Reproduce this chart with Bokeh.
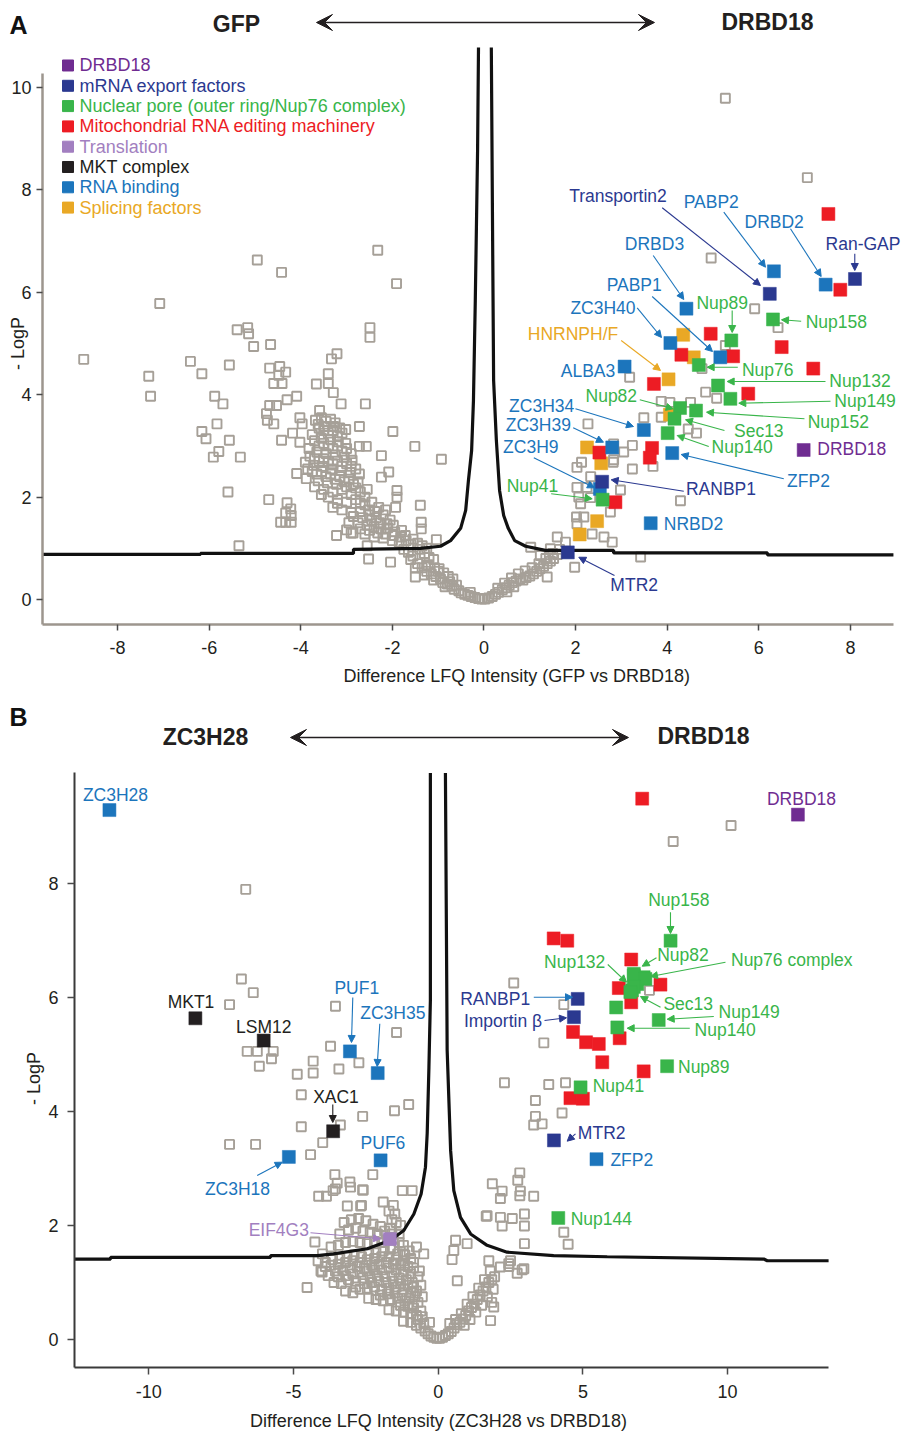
from bokeh.plotting import figure
from bokeh.models import Label, Arrow, NormalHead, VeeHead, Range1d, FixedTicker
from bokeh.layouts import column
from bokeh.embed import file_html
from bokeh.resources import INLINE

FONT = "Liberation Sans"
C_DRBD18 = "#6f2c91"
C_EXPORT = "#2b3990"
C_PORE = "#39b54a"
C_EDIT = "#ed1c24"
C_TRANS = "#a27fc0"
C_MKT = "#231f20"
C_RNA = "#1c75bc"
C_SPLICE = "#e9a825"
C_GREY = "#a6a098"

# ---------------- Panel A data (GFP vs DRBD18) ----------------
A_drbd18 = [(6.98, 2.92)]
A_export = [(6.24, 5.97), (8.10, 6.26), (2.58, 2.30), (1.83, 0.92)]
A_pore = [(6.31, 5.47), (5.40, 5.06), (4.69, 4.58), (5.11, 4.18), (5.38, 3.92), (4.28, 3.74),
          (4.63, 3.69), (4.16, 3.53), (4.01, 3.25), (2.59, 1.95)]
A_editing = [(7.52, 7.53), (7.78, 6.05), (4.95, 5.19), (6.50, 4.93), (4.31, 4.78), (5.44, 4.75),
             (7.19, 4.51), (3.71, 4.21), (5.77, 4.02), (2.52, 2.87), (3.67, 2.96), (3.62, 2.77), (2.87, 1.90)]
A_splicing = [(4.35, 5.17), (4.58, 4.73), (4.03, 4.30), (4.06, 3.61), (2.25, 2.97), (2.56, 2.66),
              (2.47, 1.53), (2.09, 1.27)]
A_rnabind = [(6.33, 6.41), (7.46, 6.15), (4.42, 5.68), (4.07, 5.01), (5.16, 4.73), (3.07, 4.55),
             (3.49, 3.31), (2.80, 2.97), (4.11, 2.86), (2.53, 2.16), (3.64, 1.49)]

A_other = [
    (-8.74, 4.69), (-7.08, 5.78), (-7.32, 4.36), (-7.28, 3.97), (-4.95, 6.63), (-4.42, 6.39), (-2.32, 6.82),
    (-1.91, 6.17), (-5.39, 5.27), (-5.16, 5.31), (-5.14, 5.19), (-5.03, 4.94), (-4.66, 4.98), (-2.49, 5.31),
    (-2.49, 5.12), (-6.41, 4.65), (-6.16, 4.41), (-5.56, 4.58), (-4.68, 4.52), (-4.46, 4.55), (-4.33, 4.44),
    (-4.48, 4.38), (-4.59, 4.22), (-4.41, 4.22), (-3.21, 4.80), (-3.33, 4.70), (-3.40, 4.41), (-3.40, 4.22),
    (-3.66, 4.21), (-3.29, 4.04), (-3.12, 3.82), (-2.59, 3.82), (-5.88, 3.97), (-5.70, 3.82), (-4.09, 3.97),
    (-4.30, 3.90), (-4.68, 3.79), (-4.53, 3.79), (-4.75, 3.63), (-4.73, 3.50), (-4.59, 3.43), (-4.02, 3.55),
    (-3.97, 3.43), (-5.83, 3.43), (-6.16, 3.28), (-6.07, 3.14), (-5.56, 3.11), (-4.42, 3.11), (-4.18, 3.25),
    (-4.02, 3.07), (-5.79, 2.89), (-5.91, 2.78), (-5.32, 2.78), (-2.72, 3.38), (-1.99, 3.28), (-1.51, 2.99),
    (-0.93, 2.74), (-2.24, 2.81), (-2.72, 2.99), (-2.57, 2.99), (-5.59, 2.10), (-4.70, 1.95), (-4.09, 2.46),
    (-3.88, 2.36), (-4.30, 1.89), (-4.22, 1.77), (-4.33, 1.69), (-4.21, 1.64), (-4.44, 1.51), (-4.33, 1.51),
    (-4.21, 1.51), (-5.35, 1.05), (-3.22, 1.25), (-3.00, 1.36), (-2.86, 1.30), (-2.55, 1.05), (-2.04, 0.73),
    (-2.52, 0.79), (-1.39, 1.84), (-1.37, 1.51), (-1.37, 1.38), (-1.50, 0.44), (-2.08, 2.49), (-2.24, 2.39),
    (-1.90, 2.13), (-1.90, 2.00), (-1.93, 1.80), (-3.59, 3.69), (-3.68, 3.50), (-3.02, 3.32), (-1.04, 1.17),
    # dense upper cluster
    (-3.55, 3.55), (-3.45, 3.48), (-3.35, 3.52), (-3.25, 3.45), (-3.60, 3.35), (-3.50, 3.30), (-3.40, 3.25),
    (-3.30, 3.30), (-3.20, 3.20), (-3.10, 3.25), (-3.70, 3.10), (-3.60, 3.00), (-3.50, 3.05), (-3.40, 3.00),
    (-3.30, 2.95), (-3.20, 3.00), (-3.10, 2.90), (-3.00, 2.95), (-2.90, 2.85), (-3.80, 2.80), (-3.70, 2.75),
    (-3.60, 2.70), (-3.50, 2.75), (-3.40, 2.70), (-3.30, 2.65), (-3.20, 2.70), (-3.10, 2.60), (-3.00, 2.65),
    (-2.90, 2.60), (-2.80, 2.55), (-3.85, 2.55), (-3.75, 2.50), (-3.65, 2.45), (-3.55, 2.50), (-3.45, 2.40),
    (-3.35, 2.45), (-3.25, 2.35), (-3.15, 2.40), (-3.05, 2.30), (-2.95, 2.35), (-2.85, 2.25), (-2.75, 2.30),
    (-3.70, 2.20), (-3.50, 2.15), (-3.30, 2.10), (-3.10, 2.15), (-2.90, 2.05), (-2.70, 2.10), (-2.60, 2.00),
    (-3.62, 3.42), (-3.48, 3.38), (-3.28, 3.38), (-3.15, 3.35), (-3.75, 3.22), (-3.55, 3.15), (-3.35, 3.12),
    (-3.18, 3.08), (-3.02, 3.05), (-3.82, 2.95), (-3.65, 2.88), (-3.45, 2.85), (-3.25, 2.82), (-3.05, 2.78),
    (-2.88, 2.72), (-3.90, 2.68), (-3.72, 2.62), (-3.52, 2.60), (-3.32, 2.55), (-3.12, 2.52), (-2.92, 2.48),
    (-2.72, 2.45), (-3.62, 2.32), (-3.42, 2.28), (-3.22, 2.25), (-3.00, 2.20), (-2.80, 2.18), (-2.55, 2.15),
    (-3.55, 2.05), (-3.20, 1.88),
    # dense middle band
    (-3.20, 1.95), (-3.00, 1.90), (-2.80, 1.95), (-2.60, 1.85), (-2.45, 1.90), (-2.30, 1.80), (-3.10, 1.75),
    (-2.90, 1.70), (-2.70, 1.72), (-2.50, 1.65), (-2.35, 1.60), (-2.20, 1.65), (-2.05, 1.55), (-2.95, 1.50),
    (-2.75, 1.50), (-2.55, 1.45), (-2.40, 1.42), (-2.25, 1.38), (-2.10, 1.40), (-1.95, 1.32), (-1.80, 1.35),
    (-2.60, 1.28), (-2.40, 1.22), (-2.20, 1.20), (-2.00, 1.15), (-1.85, 1.12), (-1.70, 1.15), (-1.60, 1.08),
    (-2.90, 1.30), (-3.30, 1.80), (-3.40, 2.00),
    (-2.70, 1.88), (-2.52, 1.75), (-2.38, 1.72), (-2.15, 1.75), (-2.85, 1.62), (-2.65, 1.60), (-2.45, 1.55),
    (-2.28, 1.50), (-2.12, 1.48), (-1.98, 1.45), (-2.70, 1.38), (-2.50, 1.35), (-2.32, 1.30), (-2.15, 1.28),
    (-1.98, 1.25), (-1.82, 1.22), (-1.72, 1.25), (-1.55, 1.18), (-1.45, 1.10), (-1.35, 1.05), (-1.25, 1.00),
    (-1.40, 0.98), (-1.30, 0.90), (-1.20, 0.82), (-1.10, 0.78), (-1.22, 0.68), (-1.08, 0.62), (-0.98, 0.60),
    (-0.88, 0.52), (-0.78, 0.45), (-0.68, 0.40),
    # V shaped bottom
    (-1.75, 0.98), (-1.65, 0.92), (-1.55, 0.85), (-1.60, 0.78), (-1.45, 0.70), (-1.50, 0.62), (-1.35, 0.62),
    (-1.25, 0.55), (-1.30, 0.48), (-1.15, 0.50), (-1.05, 0.45), (-1.10, 0.38), (-0.95, 0.40), (-0.90, 0.33),
    (-0.80, 0.30), (-0.85, 0.25), (-0.70, 0.26), (-0.65, 0.20), (-0.55, 0.17), (-0.50, 0.13), (-0.42, 0.10),
    (-0.35, 0.08), (-0.28, 0.06), (-0.20, 0.04), (-0.12, 0.02), (-0.05, 0.01), (0.02, 0.01), (0.10, 0.03),
    (0.18, 0.06), (0.25, 0.10), (0.32, 0.14), (0.40, 0.19), (0.48, 0.23), (0.55, 0.28), (0.62, 0.33),
    (0.70, 0.36), (0.78, 0.40), (0.85, 0.38), (0.92, 0.43), (1.00, 0.46), (1.08, 0.50), (1.15, 0.55),
    (1.22, 0.60), (1.30, 0.65), (1.38, 0.70), (1.45, 0.75), (1.52, 0.80), (1.60, 0.88), (-0.60, 0.28),
    (-0.75, 0.35), (-1.00, 0.55), (0.50, 0.15), (0.65, 0.25), (-0.30, 0.14),
    (0.30, 0.22), (0.45, 0.32), (0.60, 0.42), (0.75, 0.50), (0.90, 0.56), (1.05, 0.62), (1.20, 0.70),
    (1.35, 0.80), (1.50, 0.90), (1.65, 0.98),
    # right side
    (5.27, 9.79), (7.06, 8.24), (4.96, 6.67), (5.91, 5.68), (6.42, 5.31), (5.27, 4.96), (4.76, 4.51),
    (3.18, 4.34), (4.84, 4.05), (5.08, 3.93), (3.87, 3.87), (4.06, 3.85), (4.51, 3.85), (3.49, 3.55),
    (3.87, 3.56), (2.27, 3.43), (4.46, 3.33), (4.64, 3.25), (3.24, 3.01), (3.05, 2.88), (2.83, 2.73),
    (3.24, 2.55), (3.69, 2.60), (2.03, 2.58), (2.13, 2.68), (2.33, 2.40), (2.03, 2.19), (2.25, 2.19),
    (2.98, 2.14), (2.07, 2.00), (2.33, 1.99), (2.11, 1.87), (2.76, 1.71), (2.02, 1.61), (2.18, 1.61),
    (2.03, 1.48), (2.36, 1.28), (2.62, 1.22), (2.80, 1.12), (1.60, 1.22), (1.78, 1.12), (3.42, 0.83),
    (1.98, 0.63), (4.29, 1.93), (2.83, 3.04), (2.82, 2.68), (1.45, 0.99), (1.23, 0.86), (1.02, 1.02),
    (1.38, 0.44),
]

A_thr_left_x = [-9.64, -6.19, -6.19, -2.85, -2.85, -1.39, -0.95, -0.73, -0.51, -0.40, -0.34, -0.27, -0.23, -0.19, -0.14, -0.12]
A_thr_left_y = [0.88, 0.88, 0.90, 0.90, 0.98, 1.00, 1.04, 1.15, 1.39, 1.74, 2.32, 2.91, 3.89, 5.84, 8.77, 10.78]
A_thr_right_x = [0.16, 0.19, 0.21, 0.27, 0.34, 0.43, 0.53, 0.67, 0.91, 1.34, 2.83, 2.83, 6.19, 6.19, 8.94]
A_thr_right_y = [10.78, 6.82, 4.28, 3.11, 2.13, 1.64, 1.39, 1.15, 1.04, 0.96, 0.96, 0.91, 0.91, 0.87, 0.87]

A_xticks = [-8, -6, -4, -2, 0, 2, 4, 6, 8]
A_yticks = [0, 2, 4, 6, 8, 10]

# ---------------- Panel B data (ZC3H28 vs DRBD18) ----------------
B_drbd18 = [(12.43, 9.20)]
B_export = [(4.82, 5.97), (4.69, 5.65), (4.00, 3.49)]
B_pore = [(8.03, 6.99), (6.76, 6.41), (7.10, 6.35), (6.88, 6.23), (6.70, 6.12), (6.76, 6.38), (7.16, 6.32),
          (6.76, 6.18), (6.64, 6.09), (6.15, 5.82), (7.62, 5.60), (6.19, 5.47), (7.91, 4.79), (4.92, 4.42),
          (4.15, 2.13)]
B_editing = [(7.05, 9.48), (3.99, 7.03), (4.46, 6.99), (6.67, 6.66), (6.24, 6.16), (7.68, 6.22), (6.67, 5.91),
             (6.27, 5.28), (4.66, 5.39), (5.11, 5.21), (5.55, 5.18), (5.67, 4.86), (7.10, 4.70), (4.57, 4.23),
             (5.00, 4.22)]
B_rnabind = [(-11.36, 9.28), (-3.05, 5.05), (-2.09, 4.67), (-5.16, 3.20), (-1.99, 3.14), (5.47, 3.16)]
B_mkt = [(-8.39, 5.63), (-6.03, 5.24), (-3.63, 3.65)]
B_translation = [(-1.67, 1.76)]

B_other = [
    (-6.65, 7.89), (-6.80, 6.32), (-6.39, 6.08), (-7.21, 5.87), (-3.55, 5.84), (-1.44, 5.38), (-6.60, 5.05),
    (-6.25, 5.05), (-5.70, 5.05), (-5.76, 4.92), (-6.18, 4.79), (-3.72, 5.14), (-2.74, 4.85), (-4.32, 4.88),
    (-4.87, 4.65), (-4.32, 4.67), (-3.43, 4.74), (-4.73, 4.29), (-1.51, 4.01), (-1.02, 4.12), (-2.61, 3.91),
    (-4.73, 3.73), (-3.38, 3.76), (-3.99, 3.45), (-7.21, 3.42), (-6.31, 3.42), (-4.41, 3.24), (-2.26, 2.89),
    (-3.57, 2.89), (-3.49, 2.74), (-3.05, 2.76), (-3.63, 2.61), (-3.03, 2.67), (-2.61, 2.62), (-4.13, 2.51),
    (-3.86, 2.51), (-1.24, 2.61), (-0.90, 2.61), (-3.14, 2.34), (-2.68, 2.34), (-1.90, 2.41), (-4.26, 1.71),
    (-4.53, 0.91), (-4.01, 1.18), (-3.55, 2.64), (-2.59, 2.62), (-2.65, 2.35),
    # dense cloud left of the origin
    (-3.25, 2.05), (-3.00, 2.10), (-2.75, 2.12), (-2.50, 2.08), (-2.25, 2.02), (-2.00, 1.98), (-3.10, 1.92),
    (-2.85, 1.95), (-2.60, 1.90), (-2.35, 1.88), (-2.10, 1.85), (-1.85, 1.90), (-1.65, 1.95), (-1.60, 2.10),
    (-1.70, 2.25), (-1.50, 2.20), (-1.45, 2.05), (-3.40, 1.85),
    (-3.70, 1.62), (-3.45, 1.65), (-3.20, 1.70), (-2.95, 1.72), (-2.70, 1.70), (-2.45, 1.68), (-2.20, 1.72),
    (-1.95, 1.70), (-1.75, 1.75), (-1.55, 1.78), (-1.35, 1.70), (-1.20, 1.65), (-4.00, 1.50),
    (-4.15, 1.38), (-3.90, 1.35), (-3.65, 1.40), (-3.40, 1.42), (-3.15, 1.45), (-2.90, 1.48), (-2.65, 1.45),
    (-2.40, 1.50), (-2.15, 1.52), (-1.90, 1.55), (-1.65, 1.58), (-1.40, 1.50), (-1.15, 1.48), (-0.95, 1.42),
    (-0.75, 1.62),
    (-4.05, 1.20), (-3.80, 1.12), (-3.55, 1.20), (-3.30, 1.22), (-3.05, 1.25), (-2.80, 1.28), (-2.55, 1.25),
    (-2.30, 1.30), (-2.05, 1.32), (-1.80, 1.35), (-1.55, 1.32), (-1.30, 1.30), (-1.05, 1.28), (-0.85, 1.25),
    (-3.60, 1.00), (-3.35, 0.98), (-3.10, 1.05), (-2.85, 1.02), (-2.60, 1.08), (-2.35, 1.10), (-2.10, 1.12),
    (-1.85, 1.10), (-1.60, 1.12), (-1.35, 1.08), (-1.10, 1.05), (-0.90, 1.00), (-0.70, 1.10),
    (-3.20, 0.85), (-2.95, 0.82), (-2.70, 0.88), (-2.45, 0.90), (-2.20, 0.92), (-1.95, 0.88), (-1.70, 0.90),
    (-1.45, 0.92), (-1.20, 0.88), (-0.95, 0.82), (-0.75, 0.85),
    (-2.40, 0.72), (-2.15, 0.70), (-1.90, 0.68), (-1.65, 0.70), (-1.40, 0.72), (-1.15, 0.68), (-0.90, 0.62),
    (-0.70, 0.65), (-1.70, 0.52), (-1.45, 0.50), (-1.20, 0.48), (-0.95, 0.45), (-0.75, 0.42), (-0.60, 0.50),
    (-1.20, 0.32), (-0.95, 0.30), (-0.75, 0.25), (-0.60, 0.20), (-0.50, 0.28), (-0.45, 0.15), (-0.35, 0.10),
    (-0.25, 0.06), (-0.15, 0.04), (-0.05, 0.02), (0.05, 0.02), (0.15, 0.04), (0.25, 0.07), (0.35, 0.10),
    (0.45, 0.14), (0.55, 0.20), (0.65, 0.26), (0.75, 0.30), (0.85, 0.36), (0.95, 0.42), (1.05, 0.50),
    (1.15, 0.56), (1.25, 0.62), (1.35, 0.70), (1.45, 0.78), (1.55, 0.85), (1.65, 0.92), (1.75, 1.00),
    (1.85, 1.05), (1.95, 1.10), (0.60, 0.35), (0.80, 0.45), (1.00, 0.62), (1.20, 0.75), (1.40, 0.90),
    (1.60, 1.05), (1.80, 1.20), (0.90, 0.25), (1.10, 0.35), (1.30, 0.48), (1.50, 0.60), (1.70, 0.75),
    (1.90, 0.88), (1.85, 0.65), (0.40, 0.28), (-0.30, 0.30),
    (-1.60, 1.85), (-1.55, 1.60), (-1.00, 1.55), (-0.85, 1.35), (-0.65, 1.20), (-0.60, 0.95), (-0.55, 0.75),
    (-3.90, 1.28), (-3.70, 1.30), (-3.45, 1.32), (-3.20, 1.35), (-2.95, 1.38), (-2.70, 1.35), (-2.45, 1.40),
    (-2.20, 1.42), (-1.95, 1.45), (-1.70, 1.45), (-1.45, 1.40), (-1.20, 1.38), (-3.45, 1.10), (-3.20, 1.12),
    (-2.95, 1.15), (-2.70, 1.18), (-2.45, 1.20), (-2.20, 1.22), (-1.95, 1.22), (-1.70, 1.25), (-1.45, 1.22),
    (-1.20, 1.18), (-0.95, 1.15), (-2.85, 0.92), (-2.55, 0.98), (-2.30, 1.00), (-2.05, 1.02), (-1.80, 1.00),
    (-1.55, 1.02), (-1.30, 0.98), (-1.05, 0.95), (-0.85, 0.92), (-2.00, 0.78), (-1.75, 0.80), (-1.50, 0.82),
    (-1.25, 0.78), (-1.00, 0.72), (-0.80, 0.75), (-1.30, 0.60), (-1.05, 0.58), (-0.85, 0.55), (-0.70, 0.35),
    (-0.55, 0.40), (-1.35, 1.85), (-1.30, 2.00), (-1.55, 2.35), (-1.20, 1.50),
    # right side
    (10.12, 9.01), (8.12, 8.73), (2.61, 6.25), (4.34, 5.87), (3.65, 5.20), (7.30, 6.12), (2.29, 4.50),
    (3.82, 4.47), (4.40, 4.50), (3.36, 4.19), (4.28, 3.97), (3.36, 3.91), (3.30, 3.76), (3.59, 3.78),
    (2.82, 2.92), (2.75, 2.79), (1.87, 2.73), (2.21, 2.60), (2.84, 2.60), (2.15, 2.47), (2.82, 2.52),
    (3.30, 2.51), (1.66, 2.16), (2.15, 2.14), (2.56, 2.12), (2.98, 2.20), (2.21, 1.99), (2.98, 1.99),
    (4.34, 1.88), (4.49, 1.67), (2.98, 1.68), (0.60, 1.74), (1.00, 1.68), (1.75, 1.38), (2.44, 1.33),
    (2.44, 1.28), (2.96, 1.24), (2.15, 1.27), (0.54, 1.56), (-0.50, 1.50), (2.73, 1.16), (2.50, 1.38),
    (2.90, 1.22), (0.48, 1.40), (0.66, 1.03), (1.69, 2.17), (1.81, 0.33), (1.92, 0.57),
]

B_thr_left_x = [-12.57, -11.32, -11.32, -5.79, -5.79, -4.17, -3.62, -2.45, -1.65, -1.19, -0.84, -0.59, -0.44, -0.38, -0.32, -0.27, -0.27]
B_thr_left_y = [1.41, 1.41, 1.44, 1.44, 1.47, 1.47, 1.50, 1.59, 1.74, 1.91, 2.20, 2.55, 3.02, 3.61, 4.77, 5.94, 9.93]
B_thr_right_x = [0.25, 0.31, 0.43, 0.54, 0.77, 1.12, 1.69, 2.38, 3.99, 5.84, 11.25, 11.37, 13.49]
B_thr_right_y = [9.93, 5.07, 3.31, 2.61, 2.14, 1.85, 1.65, 1.53, 1.47, 1.45, 1.41, 1.38, 1.38]

B_xticks = [-10, -5, 0, 5, 10]
B_yticks = [0, 2, 4, 6, 8]

LEGEND = [("DRBD18", C_DRBD18), ("mRNA export factors", C_EXPORT),
          ("Nuclear pore (outer ring/Nup76 complex)", C_PORE),
          ("Mitochondrial RNA editing machinery", C_EDIT), ("Translation", C_TRANS),
          ("MKT complex", C_MKT), ("RNA binding", C_RNA), ("Splicing factors", C_SPLICE)]

# annotation placement in reference pixels: (text, cx, cy, colour, arrow[, arrow colour])
A_LABELS = [
    ("Transportin2", 617.5, 196, C_EXPORT, (661.7, 207.3, 760, 285)),
    ("PABP2", 710.8, 201.7, C_RNA, (723.3, 211.7, 765, 266.7)),
    ("DRBD2", 773.7, 221.7, C_RNA, (790, 228.3, 820.7, 276)),
    ("Ran-GAP", 862.5, 244, C_EXPORT, (854.3, 253.3, 854.3, 270)),
    ("DRBD3", 654, 244, C_RNA, (652.7, 255, 683.3, 299)),
    ("PABP1", 633.7, 285, C_RNA, (651.7, 296, 712, 351)),
    ("Nup89", 721.7, 302.7, C_PORE, (731.7, 310, 731.7, 332)),
    ("ZC3H40", 602.5, 307.3, C_RNA, (636.7, 307.3, 661, 337)),
    ("Nup158", 835.8, 321.7, C_PORE, (800.7, 320.7, 781, 319.3)),
    ("HNRNPH/F", 572.5, 334, C_SPLICE, (620.7, 340, 660, 370)),
    ("Nup76", 767.2, 369, C_PORE, (737.3, 366.7, 706.7, 366.7)),
    ("ALBA3", 587.5, 370, C_RNA, None),
    ("Nup132", 859.5, 380, C_PORE, (825, 381, 726.7, 381)),
    ("Nup149", 864.5, 400, C_PORE, (830, 400.7, 738.3, 402.7)),
    ("Nup82", 610.8, 395, C_PORE, (639.3, 399.3, 672.7, 408.3)),
    ("ZC3H34", 541.2, 405, C_RNA, (575, 408.3, 633, 426)),
    ("Nup152", 837.8, 421.7, C_PORE, (804, 418.3, 706, 411.7)),
    ("ZC3H39", 537.8, 424, C_RNA, (572.7, 427.3, 603, 441.7)),
    ("Sec13", 758.3, 430, C_PORE, (724, 430, 685, 419.3)),
    ("ZC3H9", 530.3, 446.7, C_RNA, (533.3, 457.3, 594, 487.3)),
    ("Nup140", 741.7, 446.7, C_PORE, (708.3, 446, 676.7, 435)),
    ("DRBD18", 851.3, 448.3, C_DRBD18, None),
    ("ZFP2", 808, 480, C_RNA, (783.3, 478.3, 680.7, 454)),
    ("RANBP1", 720.5, 488.3, C_EXPORT, (683.3, 490.7, 610.7, 479.3)),
    ("Nup41", 532, 485, C_PORE, (550.7, 493.3, 591.7, 498.3)),
    ("NRBD2", 693, 523.3, C_RNA, None),
    ("MTR2", 633.7, 584.3, C_EXPORT, (614, 575, 578.3, 556.7)),
]

B_LABELS = [
    ("ZC3H28", 115, 794.3, C_RNA, None),
    ("DRBD18", 801, 798.3, C_DRBD18, None),
    ("MKT1", 190.5, 1001.7, C_MKT, None),
    ("LSM12", 263.3, 1026.7, C_MKT, None),
    ("PUF1", 356.3, 987.7, C_RNA, (352.3, 997, 351, 1042)),
    ("ZC3H35", 392.3, 1012.3, C_RNA, (379.3, 1023.3, 376.7, 1066)),
    ("XAC1", 335.5, 1096.7, C_MKT, (332.3, 1104, 332.3, 1122)),
    ("PUF6", 382.5, 1142.7, C_RNA, None),
    ("ZC3H18", 237, 1188.3, C_RNA, (256.7, 1175, 281.7, 1161.7)),
    ("EIF4G3", 278.3, 1230, C_TRANS, (310, 1232.3, 380, 1238.3)),
    ("Nup158", 678.3, 899.3, C_PORE, (670, 911.7, 670, 933)),
    ("Nup82", 682.5, 955, C_PORE, (656, 957.3, 641.7, 965.7)),
    ("Nup76 complex", 791.3, 959.3, C_PORE, (725, 961.7, 650, 976)),
    ("Nup132", 574.2, 961.7, C_PORE, (607.3, 964, 626, 981.7)),
    ("RANBP1", 494.7, 998.3, C_EXPORT, (533.3, 996.7, 572, 996.7), C_RNA),
    ("Sec13", 687.7, 1004, C_PORE, (660, 1006.7, 640, 996)),
    ("Nup149", 748.7, 1011.7, C_PORE, (713.3, 1016, 666.7, 1018.7)),
    ("Importin \u03b2", 502.5, 1021, C_EXPORT, (544, 1020, 566, 1017.3)),
    ("Nup140", 724.7, 1029.3, C_PORE, (689.3, 1027.7, 626.7, 1027.7)),
    ("Nup89", 703.3, 1066.7, C_PORE, None),
    ("Nup41", 618, 1086, C_PORE, None),
    ("MTR2", 601.2, 1132.7, C_EXPORT, (575, 1133.3, 566.7, 1140.7)),
    ("ZFP2", 631.3, 1159.3, C_RNA, None),
    ("Nup144", 600.8, 1218.3, C_PORE, None),
]


def conv_a(px, py):
    return (px - 483.5) / 45.8, (599.0 - py) / 51.2


def conv_b(px, py):
    return (px - 437.7) / 28.94, (1339.0 - py) / 57.05


def xs(pts):
    return [p[0] for p in pts]


def ys(pts):
    return [p[1] for p in pts]


def make_fig(xr, yr, fw, fh, xaxis_at, yaxis_at, xbounds, ybounds, xticks, yticks,
             axis_color, axis_w, tick_out, xstand, ystand):
    p = figure(frame_width=fw, frame_height=fh, x_range=Range1d(*xr), y_range=Range1d(*yr),
               min_border=0, title=None, output_backend="svg", toolbar_location=None,
               background_fill_color="white", border_fill_color="white")
    p.grid.grid_line_color = None
    p.outline_line_color = None
    p.xaxis.ticker = FixedTicker(ticks=xticks)
    p.yaxis.ticker = FixedTicker(ticks=yticks)
    p.xaxis.major_label_overrides = {t: str(t) for t in xticks}
    p.yaxis.major_label_overrides = {t: str(t) for t in yticks}
    p.xaxis.fixed_location = xaxis_at
    p.yaxis.fixed_location = yaxis_at
    p.xaxis.bounds = xbounds
    p.yaxis.bounds = ybounds
    for ax in (p.xaxis[0], p.yaxis[0]):
        ax.axis_line_color = axis_color
        ax.axis_line_width = axis_w
        ax.major_tick_line_color = "#4a4a4a"
        ax.major_tick_line_width = 1.5
        ax.major_tick_out = tick_out
        ax.major_tick_in = 0
        ax.minor_tick_line_color = None
        ax.major_label_text_font = FONT
        ax.major_label_text_font_size = "18px"
        ax.major_label_text_color = "#231f20"
    p.xaxis[0].major_label_standoff = xstand
    p.yaxis[0].major_label_standoff = ystand
    return p


def add_label(p, conv, text, px, py, color, size="17.5px", align="center", bold=False, angle=0.0):
    x, y = conv(px, py)
    p.add_layout(Label(x=x, y=y, text=text, text_color=color, text_font=FONT, text_font_size=size,
                       text_align=align, text_baseline="middle",
                       text_font_style="bold" if bold else "normal", angle=angle))


def add_arrow(p, conv, seg, color, head=7, both=False, width=1.1, vee=False):
    x0, y0 = conv(seg[0], seg[1])
    x1, y1 = conv(seg[2], seg[3])
    if vee:
        end = VeeHead(size=head, fill_color=color, line_color=color)
        start = VeeHead(size=head, fill_color=color, line_color=color) if both else None
    else:
        end = NormalHead(size=head, fill_color=color, line_color=color, line_width=1)
        start = None
    p.add_layout(Arrow(start=start, end=end, x_start=x0, y_start=y0, x_end=x1, y_end=y1,
                       line_color=color, line_width=width))


def draw_points(p, pts, color, size=13):
    p.scatter(xs(pts), ys(pts), marker="square", size=size, fill_color=color, line_color=color, line_width=0.5)


# ================= Panel A (occupies page pixels 0..686 vertically) =================
pA = make_fig((-10.557, 9.138), (-1.699, 11.699), 902, 686, -0.49, -9.64, (-9.64, 8.94), (-0.49, 10.27),
              A_xticks, A_yticks, "#9d968e", 2.5, 6, 10, 5)
pA.scatter(xs(A_other), ys(A_other), marker="square", size=9, fill_color=None, line_color=C_GREY, line_width=1.9)
pA.line(A_thr_left_x, A_thr_left_y, line_color="#111111", line_width=3.2)
pA.line(A_thr_right_x, A_thr_right_y, line_color="#111111", line_width=3.2)
for pts, c in ((A_splicing, C_SPLICE), (A_editing, C_EDIT), (A_rnabind, C_RNA), (A_pore, C_PORE),
               (A_export, C_EXPORT), (A_drbd18, C_DRBD18)):
    draw_points(pA, pts, c)

# legend (drawn manually so each entry keeps its own text colour)
for i, (name, c) in enumerate(LEGEND):
    row_y = 65 + 20.3 * i
    lx, ly = conv_a(67.5, row_y)
    pA.scatter([lx], [ly], marker="square", size=11, fill_color=c, line_color=c)
    add_label(pA, conv_a, name, 79, row_y, c, size="18px", align="left")

for item in A_LABELS:
    text, cx, cy, c, arr = item[:5]
    add_label(pA, conv_a, text, cx, cy, c)
    if arr is not None:
        add_arrow(pA, conv_a, arr, item[5] if len(item) > 5 else c)

add_label(pA, conv_a, "A", 18, 25, "#111111", size="25px", bold=True)
add_label(pA, conv_a, "GFP", 236, 24, "#231f20", size="23px", bold=True)
add_label(pA, conv_a, "DRBD18", 767, 22, "#231f20", size="23px", bold=True)
add_arrow(pA, conv_a, (316, 22, 654, 22), "#231f20", head=16, both=True, width=1.6, vee=True)
add_label(pA, conv_a, "Difference LFQ Intensity (GFP vs DRBD18)", 516.5, 675, "#231f20", size="18px")
add_label(pA, conv_a, "- LogP", 17, 343, "#231f20", size="18px", angle=1.5708)

# ================= Panel B (occupies page pixels 686..1433 vertically) =================
pB = make_fig((-15.124, 16.044), (-1.648, 11.446), 902, 747, -0.49, -12.57, (-12.57, 13.49), (-0.49, 9.93),
              B_xticks, B_yticks, "#3a3a3a", 2, 7, 11, 9)
pB.scatter(xs(B_other), ys(B_other), marker="square", size=9, fill_color=None, line_color=C_GREY, line_width=1.9)
pB.line(B_thr_left_x, B_thr_left_y, line_color="#111111", line_width=3.2)
pB.line(B_thr_right_x, B_thr_right_y, line_color="#111111", line_width=3.2)
for pts, c in ((B_editing, C_EDIT), (B_rnabind, C_RNA), (B_pore, C_PORE), (B_export, C_EXPORT),
               (B_mkt, C_MKT), (B_translation, C_TRANS), (B_drbd18, C_DRBD18)):
    draw_points(pB, pts, c)

for item in B_LABELS:
    text, cx, cy, c, arr = item[:5]
    add_label(pB, conv_b, text, cx, cy, c)
    if arr is not None:
        add_arrow(pB, conv_b, arr, item[5] if len(item) > 5 else c)

add_label(pB, conv_b, "B", 18, 717, "#111111", size="25px", bold=True)
add_label(pB, conv_b, "ZC3H28", 205, 737, "#231f20", size="23px", bold=True)
add_label(pB, conv_b, "DRBD18", 703, 736, "#231f20", size="23px", bold=True)
add_arrow(pB, conv_b, (290, 737, 628, 737), "#231f20", head=16, both=True, width=1.6, vee=True)
add_label(pB, conv_b, "Difference LFQ Intensity (ZC3H28 vs DRBD18)", 438, 1421, "#231f20", size="18px")
add_label(pB, conv_b, "- LogP", 34, 1078, "#231f20", size="18px", angle=1.5708)

layout = column(pA, pB, spacing=0)
open("out.html", "w").write(file_html(layout, INLINE))
